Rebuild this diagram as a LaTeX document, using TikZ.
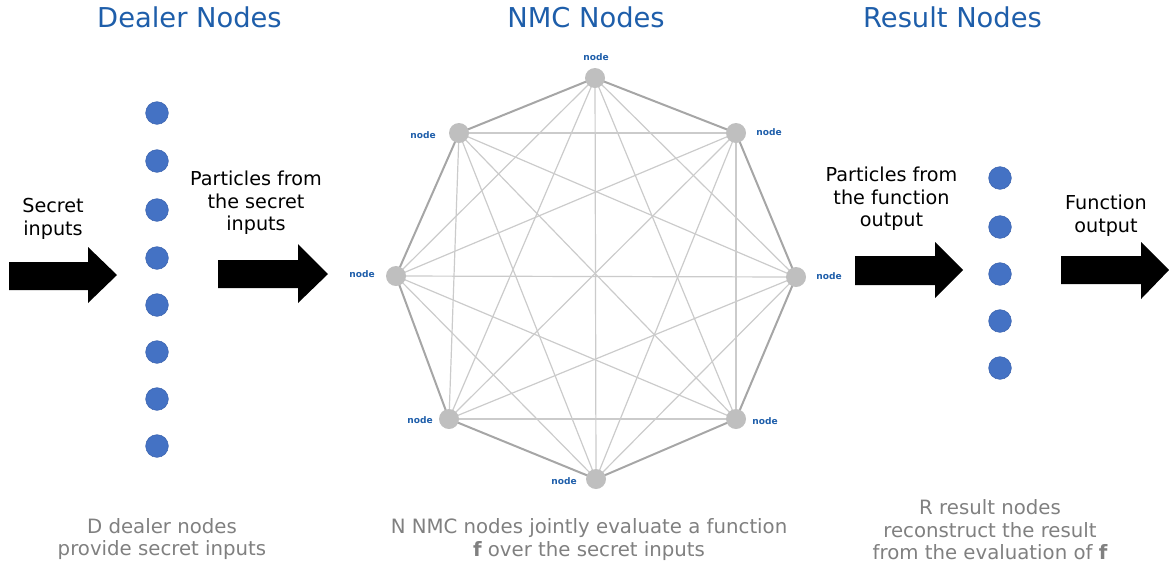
\documentclass[tikz,border=0pt]{standalone}
\usepackage{fontspec}
\setmainfont{DejaVu Sans}
\usepackage{tikz}
\usetikzlibrary{calc}
\pgfdeclarelayer{background}
\pgfsetlayers{background,main}
\definecolor{titleblue}{RGB}{30,94,170}
\definecolor{dotblue}{RGB}{68,114,196}
\definecolor{dotrim}{RGB}{60,100,175}
\definecolor{nodegray}{RGB}{191,191,191}
\definecolor{rimgray}{RGB}{166,166,166}
\definecolor{chordgray}{RGB}{203,203,203}
\definecolor{notegray}{RGB}{128,128,128}

\begin{document}
\begin{tikzpicture}[x=0.75pt,y=0.75pt,yscale=-1,xscale=1,
  title/.style={text=titleblue,font=\fontsize{20.5}{24}\selectfont,anchor=base,inner sep=0pt},
  partdot/.style={circle,fill=dotblue,draw=dotrim,line width=0.4pt,minimum size=17pt,inner sep=0pt},
  nmcnode/.style={circle,fill=nodegray,minimum size=15pt,inner sep=0pt},
  nodetag/.style={text=titleblue,font=\fontsize{6.8}{8}\selectfont\bfseries,inner sep=0pt},
  flowtext/.style={align=center,font=\fontsize{14.4}{17}\selectfont,inner sep=0pt},
  notetext/.style={align=center,text=notegray,font=\fontsize{14.8}{16.9}\selectfont,inner sep=0pt},
  rim/.style={draw=rimgray,line width=1.5pt},
  chord/.style={draw=chordgray,line width=0.9pt},
  blockarrow/.style={fill=black}]
%set diagram left start at 0, and has height of 565
\useasboundingbox (0,0) rectangle (1169,565);

% Text Node
\node [title] (dealertitle) at (189.5,27) {Dealer Nodes};
% Text Node
\node [title] (nmctitle) at (586,27) {NMC Nodes};
% Text Node
\node [title] (resulttitle) at (952.5,27) {Result Nodes};

%Shape: Circle
\node [partdot] (d1) at (157,113) {};
\node [partdot] (d2) at (157,161) {};
\node [partdot] (d3) at (157,210) {};
\node [partdot] (d4) at (157,258) {};
\node [partdot] (d5) at (157,305) {};
\node [partdot] (d6) at (157,352) {};
\node [partdot] (d7) at (157,399) {};
\node [partdot] (d8) at (157,446) {};

%Shape: Circle
\node [partdot] (r1) at (1000,178) {};
\node [partdot] (r2) at (1000,227) {};
\node [partdot] (r3) at (1000,274) {};
\node [partdot] (r4) at (1000,321) {};
\node [partdot] (r5) at (1000,368) {};

%Shape: Circle
\node [nmcnode] (n1) at (595,78) {};
\node [nmcnode] (n2) at (736,133) {};
\node [nmcnode] (n3) at (796,277) {};
\node [nmcnode] (n4) at (736,419) {};
\node [nmcnode] (n5) at (596,479) {};
\node [nmcnode] (n6) at (449,419) {};
\node [nmcnode] (n7) at (396,276) {};
\node [nmcnode] (n8) at (459,133) {};

\begin{pgfonlayer}{background}
%Straight Lines
\path [chord] (n1.center) -- (n3.center);
\path [chord] (n1.center) -- (n4.center);
\path [chord] (n1.center) -- (n5.center);
\path [chord] (n1.center) -- (n6.center);
\path [chord] (n1.center) -- (n7.center);
\path [chord] (n2.center) -- (n4.center);
\path [chord] (n2.center) -- (n5.center);
\path [chord] (n2.center) -- (n6.center);
\path [chord] (n2.center) -- (n7.center);
\path [chord] (n2.center) -- (n8.center);
\path [chord] (n3.center) -- (n5.center);
\path [chord] (n3.center) -- (n6.center);
\path [chord] (n3.center) -- (n7.center);
\path [chord] (n3.center) -- (n8.center);
\path [chord] (n4.center) -- (n6.center);
\path [chord] (n4.center) -- (n7.center);
\path [chord] (n4.center) -- (n8.center);
\path [chord] (n5.center) -- (n7.center);
\path [chord] (n5.center) -- (n8.center);
\path [chord] (n6.center) -- (n8.center);
%Straight Lines
\path [rim] (n1.center) -- (n2.center);
\path [rim] (n2.center) -- (n3.center);
\path [rim] (n3.center) -- (n4.center);
\path [rim] (n4.center) -- (n5.center);
\path [rim] (n5.center) -- (n6.center);
\path [rim] (n6.center) -- (n7.center);
\path [rim] (n7.center) -- (n8.center);
\path [rim] (n8.center) -- (n1.center);
\end{pgfonlayer}

% Text Node
\node [nodetag] (t1) at (596,57) {node};
\node [nodetag] (t2) at (769,132) {node};
\node [nodetag] (t3) at (829,276) {node};
\node [nodetag] (t4) at (765,421) {node};
\node [nodetag] (t5) at (564,481) {node};
\node [nodetag] (t6) at (420,420) {node};
\node [nodetag] (t7) at (362,274) {node};
\node [nodetag] (t8) at (423,135) {node};

%Shape: Right Arrow
\fill [blockarrow] (9,262) -- (88,262) -- (88,247) -- (117,275) -- (88,303) -- (88,290) -- (9,290) -- cycle;
%Shape: Right Arrow
\fill [blockarrow] (218,260) -- (298,260) -- (298,244) -- (328,274) -- (298,303) -- (298,288) -- (218,288) -- cycle;
%Shape: Right Arrow
\fill [blockarrow] (855,256) -- (935,256) -- (935,242) -- (963,270) -- (935,298) -- (935,285) -- (855,285) -- cycle;
%Shape: Right Arrow
\fill [blockarrow] (1061,256) -- (1141,256) -- (1141,242) -- (1169,270) -- (1141,299) -- (1141,284) -- (1061,284) -- cycle;

% Text Node
\node [flowtext] (secret) at (53,219) {Secret\\inputs};
% Text Node
\node [flowtext] (partin) at (256,203) {Particles from\\the secret\\inputs};
% Text Node
\node [flowtext] (partout) at (891.5,199) {Particles from\\the function\\output};
% Text Node
\node [flowtext] (funcout) at (1106,216) {Function\\output};

% Text Node
\node [notetext] (dealernote) at (162,539) {D dealer nodes\\provide secret inputs};
% Text Node
\node [notetext] (nmcnote) at (589,539.5) {N NMC nodes jointly evaluate a function\\{\bfseries f} over the secret inputs};
% Text Node
\node [notetext] (resultnote) at (990,530) {R result nodes\\reconstruct the result\\from the evaluation of {\bfseries f}};

\end{tikzpicture}
\end{document}
